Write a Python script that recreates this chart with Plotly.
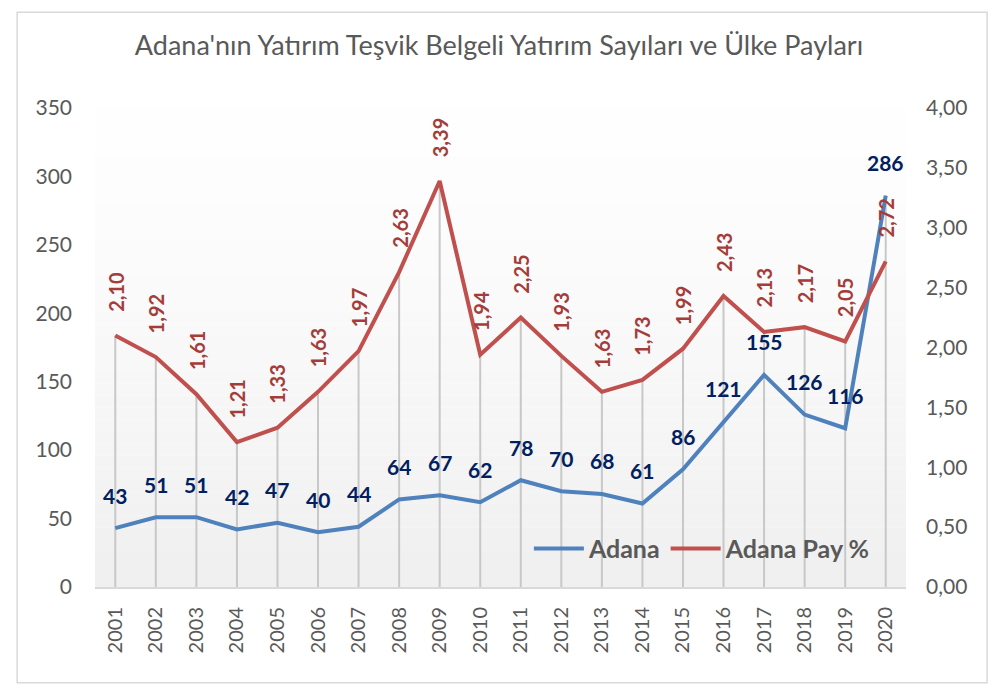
"""
Adana yatırım teşvik belgesi grafiği
- sol eksen: belge sayısı
- sağ eksen: ülke payı (%)
"""
import plotly.graph_objects as go

# veri
YEARS = list(range(2001, 2021))
ADANA = [43, 51, 51, 42, 47, 40, 44, 64, 67, 62, 78, 70, 68, 61, 86, 121, 155, 126, 116, 286]
PAY = [2.10, 1.92, 1.61, 1.21, 1.33, 1.63, 1.97, 2.63, 3.39, 1.94,
       2.25, 1.93, 1.63, 1.73, 1.99, 2.43, 2.13, 2.17, 2.05, 2.72]
LEFT_TICKS = [0, 50, 100, 150, 200, 250, 300, 350]
RIGHT_TICKS = [0, 0.5, 1.0, 1.5, 2.0, 2.5, 3.0, 3.5, 4.0]

COLORS = {
    "adana": "#4F81BD",
    "pay": "#C0504D",
    "adana_label": "#002060",
    "pay_label": "#A43D3A",
    "text": "#595959",
    "drop": "#C8C8C8",
    "axis": "#D9D9D9",
}
FONT = "Lato, 'Open Sans', sans-serif"

LEFT_MAX = 350
RIGHT_MAX = 4.0

fig = go.Figure()

# dikey düşme çizgileri (iki serinin büyüğüne kadar)
drop_x, drop_y = [], []
for yr, a, p in zip(YEARS, ADANA, PAY):
    top = max(a, p * LEFT_MAX / RIGHT_MAX)
    drop_x += [yr, yr, None]
    drop_y += [0, top, None]
fig.add_trace(go.Scatter(
    x=drop_x, y=drop_y, mode="lines",
    line=dict(color=COLORS["drop"], width=2),
    showlegend=False, hoverinfo="skip",
))

fig.add_trace(go.Scatter(
    x=YEARS, y=ADANA, name="Adana", mode="lines",
    line=dict(color=COLORS["adana"], width=4),
))

fig.add_trace(go.Scatter(
    x=YEARS, y=PAY, name="Adana Pay %", mode="lines", yaxis="y2",
    line=dict(color=COLORS["pay"], width=4),
))

# veri etiketleri
for yr, a in zip(YEARS, ADANA):
    fig.add_annotation(
        x=yr, y=a, xref="x", yref="y", text=str(a), showarrow=False,
        yanchor="middle", yshift=33,
        font=dict(family=FONT, size=21, color=COLORS["adana_label"], weight="bold"),
    )
for yr, p in zip(YEARS, PAY):
    fig.add_annotation(
        x=yr, y=p, xref="x", yref="y2", text=f"{p:.2f}".replace(".", ","),
        showarrow=False, textangle=-90, yanchor="bottom", yshift=22,
        font=dict(family=FONT, size=20, color=COLORS["pay_label"], weight="bold"),
    )

# arka plan gradyanı
steps = 40
for i in range(steps):
    g = int(255 - (255 - 240) * (1 - i / steps) ** 1.3)
    fig.add_shape(
        type="rect", xref="x domain", yref="y domain",
        x0=0, x1=1, y0=i / steps, y1=(i + 1) / steps,
        fillcolor=f"rgb({g},{g},{g})", line_width=0, layer="below",
    )

# dış çerçeve
fig.add_shape(
    type="rect", xref="paper", yref="paper",
    x0=-0.096, x1=1.1, y0=-0.2, y1=1.2,
    line=dict(color="#D9D9D9", width=1.5), fillcolor="rgba(0,0,0,0)",
)

fig.update_layout(
    width=982, height=677,
    paper_bgcolor="white", plot_bgcolor="rgba(0,0,0,0)",
    margin=dict(l=87, r=84, t=100, b=98),
    separators=",.",
    title=dict(
        text="Adana'nın Yatırım Teşvik Belgeli Yatırım Sayıları ve Ülke Payları",
        x=0.5, xanchor="center", y=0.945, yanchor="middle",
        font=dict(family=FONT, size=27, color=COLORS["text"]),
    ),
    showlegend=True,
    legend=dict(
        orientation="h", x=0.535, y=0.08, xanchor="left", yanchor="middle",
        bgcolor="rgba(0,0,0,0)", itemwidth=50,
        font=dict(family=FONT, size=25, color=COLORS["text"], weight="bold"),
    ),
    xaxis=dict(
        range=[YEARS[0] - 0.5, YEARS[-1] + 0.5], tickmode="array", tickvals=YEARS,
        showgrid=False, showline=True, linecolor=COLORS["axis"], linewidth=2,
        tickangle=-90, ticks="", ticklabelstandoff=10,
        tickfont=dict(family=FONT, size=20, color=COLORS["text"]),
        fixedrange=True,
    ),
    yaxis=dict(
        range=[0, LEFT_MAX], tickmode="array", tickvals=LEFT_TICKS,
        showgrid=False, zeroline=False, showline=False, ticks="",
        ticklabelstandoff=22,
        tickfont=dict(family=FONT, size=21, color=COLORS["text"]),
        fixedrange=True,
    ),
    yaxis2=dict(
        range=[0, RIGHT_MAX], tickmode="array", tickvals=RIGHT_TICKS,
        tickformat=".2f", overlaying="y", side="right",
        showgrid=False, zeroline=False, showline=False, ticks="",
        ticklabelstandoff=19,
        tickfont=dict(family=FONT, size=21, color=COLORS["text"]),
        fixedrange=True,
    ),
)

fig.write_html("out.html")
